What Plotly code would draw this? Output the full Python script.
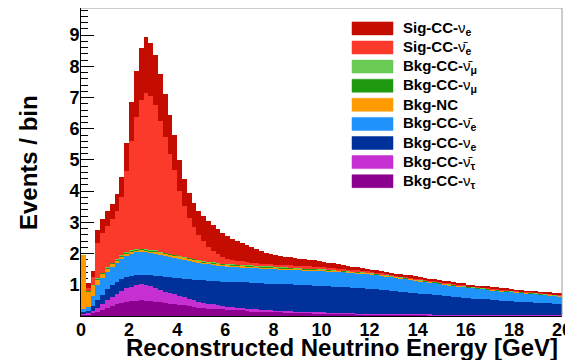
import numpy as np
import plotly.graph_objects as go

# ---------------- data (events per 0.2 GeV bin) ----------------
bin_low = 0.0
bin_width = 0.2
n_bins = 100

bkg_cc_nutau = [
    0.06, 0.06, 0.09, 0.14, 0.20, 0.26, 0.32, 0.37, 0.41, 0.45,
    0.47, 0.49, 0.50, 0.49, 0.48, 0.46, 0.44, 0.42, 0.40, 0.38,
    0.36, 0.34, 0.32, 0.30, 0.27, 0.26, 0.24, 0.23, 0.22, 0.21,
    0.20, 0.19, 0.18, 0.18, 0.17, 0.16, 0.16, 0.15, 0.14, 0.14,
    0.13, 0.13, 0.12, 0.12, 0.11, 0.11, 0.10, 0.10, 0.09, 0.09,
    0.09, 0.08, 0.08, 0.08, 0.07, 0.07, 0.07, 0.06, 0.06, 0.06,
    0.05, 0.05, 0.05, 0.05, 0.05, 0.04, 0.04, 0.04, 0.04, 0.04,
    0.04, 0.04, 0.03, 0.03, 0.03, 0.03, 0.03, 0.03, 0.03, 0.03,
    0.03, 0.03, 0.02, 0.02, 0.02, 0.02, 0.02, 0.02, 0.02, 0.02,
    0.02, 0.02, 0.02, 0.02, 0.02, 0.02, 0.02, 0.02, 0.02, 0.02,
]
bkg_cc_nutaubar = [
    0.03, 0.04, 0.07, 0.12, 0.18, 0.24, 0.30, 0.35, 0.40, 0.44,
    0.47, 0.50, 0.51, 0.50, 0.47, 0.43, 0.39, 0.36, 0.33, 0.31,
    0.29, 0.26, 0.24, 0.22, 0.19, 0.17, 0.15, 0.14, 0.12, 0.11,
    0.10, 0.09, 0.08, 0.08, 0.07, 0.06, 0.06, 0.05, 0.05, 0.05,
    0.04, 0.04, 0.04, 0.04, 0.03, 0.03, 0.03, 0.03, 0.03, 0.03,
    0.03, 0.03, 0.03, 0.03, 0.02, 0.02, 0.02, 0.02, 0.02, 0.02,
    0.02, 0.02, 0.02, 0.02, 0.02, 0.02, 0.02, 0.02, 0.02, 0.02,
    0.02, 0.02, 0.02, 0.01, 0.01, 0.01, 0.01, 0.01, 0.01, 0.01,
    0.01, 0.01, 0.01, 0.01, 0.01, 0.01, 0.01, 0.01, 0.01, 0.01,
    0.01, 0.01, 0.01, 0.01, 0.01, 0.01, 0.01, 0.01, 0.01, 0.01,
]
bkg_cc_nue = [
    0.04, 0.07, 0.17, 0.24, 0.30, 0.35, 0.38, 0.38, 0.37, 0.35,
    0.34, 0.32, 0.32, 0.33, 0.36, 0.40, 0.44, 0.48, 0.51, 0.54,
    0.56, 0.60, 0.62, 0.64, 0.69, 0.71, 0.74, 0.75, 0.77, 0.78,
    0.80, 0.81, 0.83, 0.82, 0.84, 0.85, 0.84, 0.85, 0.85, 0.85,
    0.86, 0.85, 0.85, 0.85, 0.86, 0.85, 0.85, 0.85, 0.85, 0.84,
    0.84, 0.84, 0.83, 0.82, 0.84, 0.83, 0.82, 0.82, 0.81, 0.80,
    0.80, 0.79, 0.77, 0.76, 0.74, 0.73, 0.72, 0.70, 0.69, 0.67,
    0.65, 0.64, 0.64, 0.63, 0.62, 0.60, 0.59, 0.58, 0.56, 0.55,
    0.53, 0.52, 0.52, 0.51, 0.50, 0.48, 0.47, 0.46, 0.45, 0.44,
    0.43, 0.42, 0.42, 0.41, 0.40, 0.39, 0.38, 0.38, 0.37, 0.36,
]
bkg_cc_nuebar = [
    0.09, 0.13, 0.32, 0.48, 0.54, 0.57, 0.58, 0.60, 0.64, 0.68,
    0.72, 0.73, 0.72, 0.72, 0.71, 0.71, 0.70, 0.68, 0.67, 0.65,
    0.64, 0.62, 0.61, 0.60, 0.57, 0.55, 0.54, 0.53, 0.52, 0.51,
    0.50, 0.50, 0.49, 0.49, 0.48, 0.48, 0.48, 0.48, 0.48, 0.48,
    0.48, 0.48, 0.49, 0.48, 0.48, 0.49, 0.49, 0.49, 0.49, 0.49,
    0.49, 0.49, 0.49, 0.49, 0.48, 0.48, 0.48, 0.47, 0.47, 0.47,
    0.47, 0.46, 0.46, 0.45, 0.44, 0.44, 0.43, 0.43, 0.42, 0.41,
    0.41, 0.40, 0.39, 0.39, 0.37, 0.37, 0.36, 0.35, 0.35, 0.34,
    0.34, 0.34, 0.33, 0.33, 0.32, 0.32, 0.32, 0.31, 0.31, 0.31,
    0.30, 0.30, 0.28, 0.28, 0.28, 0.27, 0.27, 0.26, 0.25, 0.25,
]
bkg_nc = [
    1.75, 0.50, 0.32, 0.20, 0.13, 0.10, 0.09, 0.08, 0.08, 0.08,
    0.08, 0.07, 0.07, 0.07, 0.06, 0.06, 0.05, 0.05, 0.05, 0.05,
    0.05, 0.05, 0.05, 0.05, 0.05, 0.04, 0.04, 0.04, 0.04, 0.04,
    0.04, 0.04, 0.04, 0.04, 0.04, 0.04, 0.04, 0.04, 0.04, 0.04,
    0.03, 0.03, 0.03, 0.03, 0.03, 0.03, 0.03, 0.03, 0.03, 0.03,
    0.03, 0.03, 0.03, 0.03, 0.03, 0.03, 0.03, 0.03, 0.03, 0.03,
    0.02, 0.02, 0.02, 0.02, 0.02, 0.02, 0.02, 0.02, 0.02, 0.02,
    0.02, 0.02, 0.02, 0.02, 0.02, 0.02, 0.02, 0.02, 0.02, 0.02,
    0.01, 0.01, 0.01, 0.01, 0.01, 0.01, 0.01, 0.01, 0.01, 0.01,
    0.01, 0.01, 0.01, 0.01, 0.01, 0.01, 0.01, 0.01, 0.01, 0.01,
]
bkg_cc_numu = [
    0.00, 0.01, 0.02, 0.03, 0.03, 0.03, 0.03, 0.03, 0.03, 0.03,
    0.03, 0.03, 0.03, 0.03, 0.03, 0.03, 0.03, 0.03, 0.03, 0.03,
    0.02, 0.02, 0.02, 0.02, 0.02, 0.02, 0.02, 0.02, 0.02, 0.02,
    0.02, 0.02, 0.02, 0.02, 0.02, 0.02, 0.02, 0.02, 0.02, 0.02,
    0.02, 0.02, 0.02, 0.02, 0.02, 0.02, 0.02, 0.02, 0.02, 0.02,
    0.02, 0.01, 0.01, 0.01, 0.01, 0.01, 0.01, 0.01, 0.01, 0.01,
    0.01, 0.01, 0.01, 0.01, 0.01, 0.01, 0.01, 0.01, 0.01, 0.01,
    0.01, 0.01, 0.01, 0.01, 0.01, 0.01, 0.01, 0.01, 0.01, 0.01,
    0.01, 0.01, 0.01, 0.01, 0.01, 0.01, 0.01, 0.01, 0.01, 0.01,
    0.01, 0.01, 0.01, 0.01, 0.01, 0.01, 0.01, 0.01, 0.01, 0.01,
]
bkg_cc_numubar = [0.00, 0.00] + [0.01] * 98
sig_cc_nuebar = [
    0.00, 0.09, 0.25, 1.13, 1.27, 1.32, 1.40, 1.54, 1.86, 2.60,
    3.50, 4.22, 4.77, 5.00, 4.93, 4.65, 4.19, 3.72, 3.20, 2.71,
    2.09, 1.62, 1.28, 1.01, 0.80, 0.64, 0.48, 0.36, 0.28, 0.22,
    0.17, 0.14, 0.12, 0.11, 0.10, 0.09, 0.08, 0.08, 0.08, 0.08,
    0.08, 0.08, 0.07, 0.07, 0.07, 0.06, 0.06, 0.06, 0.06, 0.05,
    0.05, 0.05, 0.05, 0.04, 0.04, 0.04, 0.04, 0.04, 0.04, 0.04,
    0.03, 0.03, 0.03, 0.03, 0.03, 0.03, 0.03, 0.03, 0.03, 0.03,
    0.03, 0.03, 0.03, 0.03, 0.03, 0.03, 0.03, 0.03, 0.03, 0.03,
    0.02, 0.02, 0.02, 0.02, 0.02, 0.02, 0.02, 0.02, 0.02, 0.02,
    0.02, 0.02, 0.02, 0.02, 0.02, 0.02, 0.02, 0.02, 0.02, 0.02,
]
sig_cc_nue = [
    0.00, 0.15, 0.20, 0.40, 0.44, 0.47, 0.49, 0.54, 0.65, 0.91,
    1.23, 1.48, 1.67, 1.80, 1.70, 1.60, 1.50, 1.35, 1.25, 1.12,
    0.98, 0.88, 0.80, 0.77, 0.78, 0.80, 0.83, 0.84, 0.80, 0.75,
    0.71, 0.67, 0.63, 0.59, 0.55, 0.49, 0.45, 0.40, 0.36, 0.32,
    0.30, 0.28, 0.27, 0.26, 0.25, 0.24, 0.23, 0.21, 0.20, 0.20,
    0.18, 0.17, 0.16, 0.15, 0.14, 0.11, 0.10, 0.10, 0.09, 0.08,
    0.07, 0.07, 0.07, 0.07, 0.07, 0.06, 0.06, 0.06, 0.06, 0.06,
    0.05, 0.05, 0.05, 0.05, 0.05, 0.05, 0.05, 0.05, 0.05, 0.05,
    0.03, 0.03, 0.03, 0.03, 0.03, 0.03, 0.03, 0.03, 0.03, 0.03,
    0.02, 0.02, 0.02, 0.02, 0.02, 0.02, 0.02, 0.02, 0.02, 0.02,
]

x_ticks = [0, 2, 4, 6, 8, 10, 12, 14, 16, 18, 20]
y_ticks = [1, 2, 3, 4, 5, 6, 7, 8, 9]

# stack order: bottom first
series = [
    ("Bkg-CC-<span style='font-weight:normal'>ν</span><sub>τ</sub>", bkg_cc_nutau, "#8c0090"),
    ("Bkg-CC-<span style='font-weight:normal'>ν\u0304</span><sub>τ</sub>", bkg_cc_nutaubar, "#c62fd2"),
    ("Bkg-CC-<span style='font-weight:normal'>ν</span><sub>e</sub>", bkg_cc_nue, "#00309a"),
    ("Bkg-CC-<span style='font-weight:normal'>ν\u0304</span><sub>e</sub>", bkg_cc_nuebar, "#1f93fa"),
    ("Bkg-NC", bkg_nc, "#ff9a00"),
    ("Bkg-CC-<span style='font-weight:normal'>ν</span><sub>μ</sub>", bkg_cc_numu, "#1f9a10"),
    ("Bkg-CC-<span style='font-weight:normal'>ν\u0304</span><sub>μ</sub>", bkg_cc_numubar, "#6acb55"),
    ("Sig-CC-<span style='font-weight:normal'>ν\u0304</span><sub>e</sub>", sig_cc_nuebar, "#fc3a2c"),
    ("Sig-CC-<span style='font-weight:normal'>ν</span><sub>e</sub>", sig_cc_nue, "#c40c00"),
]

centers = bin_low + bin_width * (np.arange(n_bins) + 0.5)

fig = go.Figure()
for name, vals, col in series:
    fig.add_trace(go.Bar(
        x=centers, y=vals, width=bin_width, name=name,
        marker=dict(color=col, line=dict(width=0)),
        showlegend=False,
    ))

# the page body adds an 8 px offset; work in viewport pixels and subtract it
OFF = 8
W, H = 573 - OFF, 360 - OFF
PLOT_L, PLOT_R, PLOT_T, PLOT_B = 81, 562, 8, 316          # viewport pixels
L, R, T, B = PLOT_L - OFF, W - (PLOT_R - OFF), PLOT_T - OFF, H - (PLOT_B - OFF)
pw, ph = PLOT_R - PLOT_L, PLOT_B - PLOT_T

def px2x(px):
    return (px - PLOT_L) / pw

def py2y(py):
    return (PLOT_B - py) / ph

FONT = "Liberation Sans, Arial, Helvetica, sans-serif"

fig.update_layout(
    width=W, height=H,
    margin=dict(l=L, r=R, t=T, b=B, autoexpand=False),
    plot_bgcolor="white", paper_bgcolor="white",
    barmode="stack", bargap=0,
    showlegend=False,
    font=dict(family=FONT, color="black"),
)
fig.update_xaxes(
    range=[0, 20], tickvals=x_ticks, ticks="inside", ticklen=11, tickwidth=1,
    tickcolor="black", showline=True, linecolor="black", linewidth=1,
    showgrid=False, zeroline=False, layer="below traces", automargin=False,
    ticklabelstandoff=-3,
    tickfont=dict(size=18, family=FONT, weight="bold"),
    minor=dict(dtick=0.5, ticks="inside", ticklen=6, tickcolor="black", showgrid=False),
)
fig.update_yaxes(
    range=[0, 9.87], tickvals=y_ticks, ticks="inside", ticklen=13, tickwidth=1,
    tickcolor="black", showline=True, linecolor="black", linewidth=1,
    showgrid=False, zeroline=False, layer="below traces", automargin=False,
    ticklabelstandoff=-3,
    tickfont=dict(size=18, family=FONT, weight="bold"),
    minor=dict(dtick=0.2, ticks="inside", ticklen=7, tickcolor="black", showgrid=False),
)

# frame top / right
fig.add_shape(type="line", xref="paper", yref="paper", x0=0, x1=1, y0=1, y1=1,
              line=dict(color="#9a9a9a", width=1))
fig.add_shape(type="line", xref="paper", yref="paper", x0=1, x1=1, y0=0, y1=1,
              line=dict(color="#9a9a9a", width=1))

# axis titles
fig.add_annotation(text="<b>Reconstructed Neutrino Energy [GeV]</b>", xref="paper", yref="paper",
                   x=px2x(560), y=py2y(347), xanchor="right", yanchor="middle",
                   showarrow=False, font=dict(size=24, family=FONT))
fig.add_annotation(text="<b>Events / bin</b>", xref="paper", yref="paper",
                   x=px2x(28), y=py2y(163), xanchor="center", yanchor="middle", textangle=-90,
                   showarrow=False, font=dict(size=24, family=FONT))

# legend (top entry = last stacked series)
row0, drow = 28.4, 19.1
for k, (name, vals, col) in enumerate(reversed(series)):
    yc = row0 + drow * k
    fig.add_shape(type="rect", xref="paper", yref="paper",
                  x0=px2x(352), x1=px2x(393), y0=py2y(yc + 6.5), y1=py2y(yc - 6.5),
                  fillcolor=col, line=dict(color=col, width=0.5))
    fig.add_annotation(text="<b>" + name + "</b>", xref="paper", yref="paper",
                       x=px2x(401), y=py2y(yc), xanchor="left", yanchor="middle",
                       showarrow=False, font=dict(size=15, family=FONT))

fig.write_html("out.html")
